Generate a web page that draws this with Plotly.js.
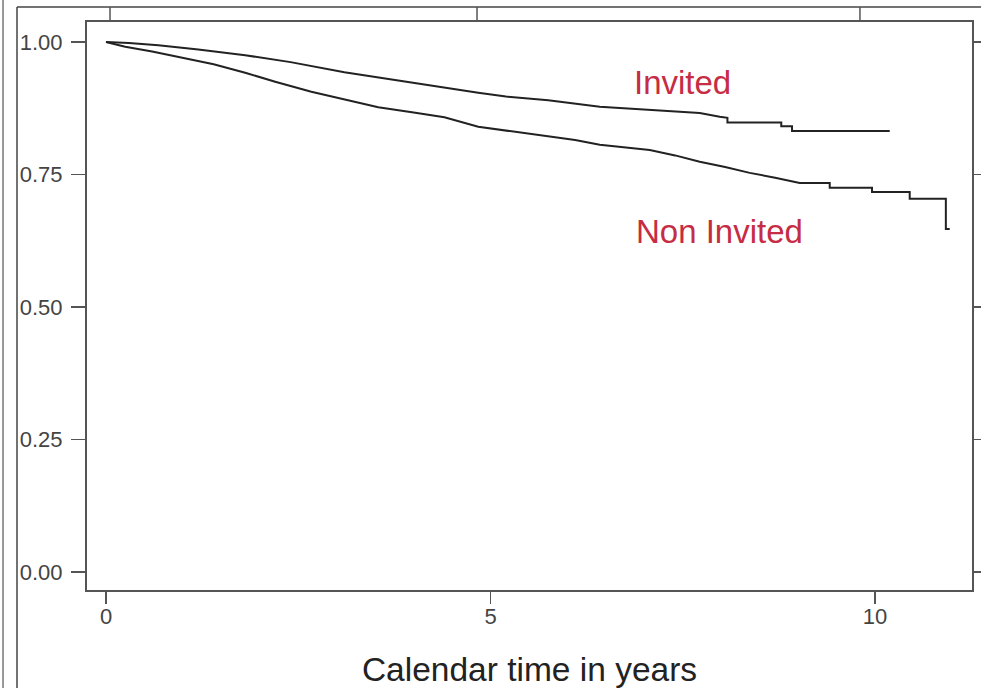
<!DOCTYPE html>
<html>
<head>
<meta charset="utf-8">
<script src="https://cdn.plot.ly/plotly-3.0.1.min.js"></script>
<style>html,body{margin:0;padding:0;background:#fff;}#chart{width:981px;height:688px;}</style>
</head>
<body>
<div id="chart"></div>
<script>
// Invited group (upper curve)
const invitedTime = [0, 0.3, 0.68, 1.2, 1.81, 2.4, 3.1, 3.8, 4.84, 5.2, 5.75, 6.42, 7.07, 7.72, 7.98, 8.08, 8.08, 8.78, 8.78, 8.92, 8.92, 10.19];
const invitedSurv = [1.0, 0.998, 0.994, 0.986, 0.975, 0.962, 0.943, 0.927, 0.904, 0.897, 0.890, 0.878, 0.872, 0.866, 0.859, 0.857, 0.848, 0.848, 0.841, 0.841, 0.832, 0.832];
// Non invited group (lower curve)
const nonInvitedTime = [0, 0.25, 0.6, 0.94, 1.4, 1.81, 2.2, 2.67, 3.1, 3.54, 4.0, 4.4, 4.84, 5.3, 5.75, 6.1, 6.42, 6.75, 7.07, 7.4, 7.72, 8.05, 8.37, 8.7, 9.02, 9.41, 9.41, 9.96, 9.96, 10.45, 10.45, 10.92, 10.92, 10.97];
const nonInvitedSurv = [1.0, 0.991, 0.982, 0.972, 0.958, 0.942, 0.925, 0.906, 0.891, 0.877, 0.867, 0.858, 0.840, 0.831, 0.823, 0.815, 0.806, 0.801, 0.796, 0.786, 0.774, 0.764, 0.753, 0.744, 0.734, 0.734, 0.725, 0.725, 0.717, 0.717, 0.704, 0.704, 0.647, 0.647];
// Axis ticks
const xTicks = [0, 5, 10];
const xTickText = ['0', '5', '10'];
const yTicks = [0, 0.25, 0.5, 0.75, 1.0];
const yTickText = ['0.00', '0.25', '0.50', '0.75', '1.00'];
// Labels
const seriesNames = ['Invited', 'Non Invited'];
const xTitle = 'Calendar time in years';

const lineStyle = {color: '#222', width: 2, shape: 'linear'};
const traces = [
  {x: invitedTime, y: invitedSurv, mode: 'lines', line: lineStyle, name: seriesNames[0], hoverinfo: 'x+y'},
  {x: nonInvitedTime, y: nonInvitedSurv, mode: 'lines', line: lineStyle, name: seriesNames[1], hoverinfo: 'x+y'}
];

const axisColor = '#555';
const fontFam = '"Liberation Sans", Arial, Helvetica, sans-serif';
const frameY = 1.0264, frameX = -0.0791, edgeX = -0.0949;
const topTickX = [0.026, 0.4407, 0.8734];
const shapes = [
  {type: 'line', xref: 'paper', yref: 'paper', x0: frameX, x1: frameX, y0: -0.2, y1: frameY, line: {color: '#444', width: 1.5}},
  {type: 'line', xref: 'paper', yref: 'paper', x0: frameX, x1: 1.05, y0: frameY, y1: frameY, line: {color: '#444', width: 1.5}},
  {type: 'line', xref: 'paper', yref: 'paper', x0: edgeX, x1: edgeX, y0: -0.2, y1: 1.1, line: {color: '#777', width: 1.5}}
];
topTickX.forEach(px => shapes.push({type: 'line', xref: 'paper', yref: 'paper', x0: px, x1: px, y0: 1.0, y1: frameY, line: {color: axisColor, width: 1.5}}));

const layout = {
  width: 981, height: 688,
  margin: {l: 87, r: 9, t: 22, b: 98},
  paper_bgcolor: '#fff', plot_bgcolor: '#fff',
  showlegend: false,
  font: {family: fontFam, color: '#333'},
  xaxis: {
    range: [-0.247, 11.26], tickvals: xTicks, ticktext: xTickText,
    ticks: 'outside', ticklen: 12, tickwidth: 1.5, tickcolor: axisColor,
    showline: true, linecolor: axisColor, linewidth: 2, mirror: true,
    showgrid: false, zeroline: false,
    tickfont: {size: 22, color: '#444', family: fontFam},
    ticklabelstandoff: -6,
    title: {text: xTitle, font: {size: 33.5, color: '#222', family: fontFam}, standoff: 34}
  },
  yaxis: {
    range: [-0.034, 1.0377], tickvals: yTicks, ticktext: yTickText,
    ticks: 'outside', ticklen: 14, tickwidth: 1.5, tickcolor: axisColor,
    showline: true, linecolor: axisColor, linewidth: 2, mirror: 'ticks',
    showgrid: false, zeroline: false,
    tickfont: {size: 22, color: '#444', family: fontFam},
    ticklabelstandoff: 4
  },
  shapes: shapes,
  annotations: [
    {x: 7.5, y: 0.9245, xref: 'x', yref: 'y', text: seriesNames[0], showarrow: false, font: {size: 33, color: '#c62c44', family: fontFam}},
    {x: 7.98, y: 0.643, xref: 'x', yref: 'y', text: seriesNames[1], showarrow: false, font: {size: 33, color: '#c62c44', family: fontFam}}
  ]
};

Plotly.newPlot('chart', traces, layout, {displayModeBar: false, staticPlot: true});
</script>
</body>
</html>
